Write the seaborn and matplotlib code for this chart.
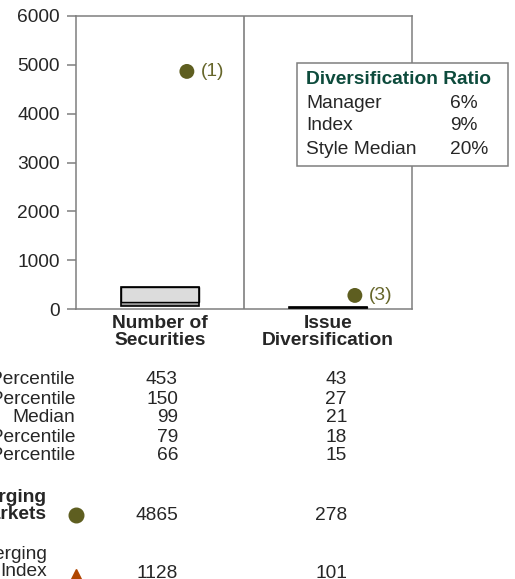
import matplotlib
matplotlib.use('Agg')
import matplotlib.pyplot as plt
from matplotlib.patches import Rectangle
import seaborn as sns
import numpy as np

# 데이터
categories = ["Number of\nSecurities", "Issue\nDiversification"]
pct_labels = ["5th Percentile", "25th Percentile", "Median", "75th Percentile", "95th Percentile"]
p05 = [453, 43]
p25 = [150, 27]
p50 = [99, 21]
p75 = [79, 18]
p95 = [66, 15]
manager_name = "Emerging\nMarkets"
manager_vals = [4865, 278]
manager_rank = ["(1)", "(3)"]
index_name = "MSCI Emerging\nIndex"
index_vals = [1128, 101]
ratio_title = "Diversification Ratio"
ratio_labels = ["Manager", "Index", "Style Median"]
ratio_vals = ["6%", "9%", "20%"]

OLIVE = '#5E5E20'
TEAL = '#0D4B3C'
RUST = '#B04600'
GREY = '#7F7F7F'

sns.set_style('white')
plt.rcParams['font.family'] = ['Liberation Sans', 'DejaVu Sans']
FS = 13.8

W, H = 515, 579
fig = plt.figure(figsize=(W / 100, H / 100), dpi=100)


def fx(px):
    return px / W


def fy(py):
    return 1 - py / H


ax = fig.add_axes([fx(76), fy(309), fx(412) - fx(76), fy(16) - fy(309)])

x = np.arange(len(categories))
bw = 0.46
lo_arr = np.array(p95)
hi_arr = np.array(p05)

# 백분위 박스: 아래쪽(95th~25th)은 회색, 위쪽(25th~5th)은 연회색
ax.bar(x, np.array(p25) - lo_arr, bottom=lo_arr, width=bw, color='#9A9A9A',
       edgecolor='none', zorder=2)
ax.bar(x, hi_arr - np.array(p25), bottom=p25, width=bw, color='#DCDCDC',
       edgecolor='black', linewidth=1.0, zorder=2)
ax.bar(x, hi_arr - lo_arr, bottom=lo_arr, width=bw, fill=False,
       edgecolor='black', linewidth=1.2, zorder=3)

# 매니저 점
mx = x + 0.16
sns.scatterplot(x=mx, y=manager_vals, ax=ax, s=115, color=OLIVE, edgecolor='none', zorder=4, legend=False)
for xi, v, r in zip(mx, manager_vals, manager_rank):
    ax.annotate(r, (xi, v), xytext=(10, 0), textcoords='offset points', va='center',
                ha='left', fontsize=FS, color='#66662A')

ax.axvline(0.5, color=GREY, lw=1.2, zorder=1)
ax.set_xlim(-0.5, 1.5)
ax.set_ylim(0, 6000)
ax.set_yticks(range(0, 6001, 1000))
ax.set_xticks([])
ax.tick_params(axis='y', direction='out', length=6.5, width=1.1, color=GREY, pad=5,
               labelsize=FS, left=True)
for sp in ax.spines.values():
    sp.set_color(GREY)
    sp.set_linewidth(1.1)

# 카테고리 라벨
for xi, c in zip([160, 328], categories):
    fig.text(fx(xi), fy(332), c, ha='center', va='center', fontsize=FS,
             fontweight='bold', linespacing=0.95)

# 백분위 표
row_y = [380, 399, 418, 437, 456]
cols = [p05, p25, p50, p75, p95]
for yy, lab, vals in zip(row_y, pct_labels, cols):
    fig.text(fx(75), fy(yy), lab, ha='right', va='center', fontsize=FS)
    fig.text(fx(178), fy(yy), str(vals[0]), ha='right', va='center', fontsize=FS)
    fig.text(fx(347), fy(yy), str(vals[1]), ha='right', va='center', fontsize=FS)

# 매니저 / 지수 행
fig.text(fx(47), fy(506), manager_name, ha='right', va='center', fontsize=FS,
         fontweight='bold', linespacing=0.95)
fig.add_artist(plt.Line2D([fx(76)], [fy(515)], marker='o', markersize=10.5,
                          color=OLIVE, linestyle='none'))
fig.text(fx(178), fy(515), str(manager_vals[0]), ha='right', va='center', fontsize=FS)
fig.text(fx(347), fy(515), str(manager_vals[1]), ha='right', va='center', fontsize=FS)

fig.text(fx(47), fy(563), index_name, ha='right', va='center', fontsize=FS,
         linespacing=0.95)
fig.add_artist(plt.Line2D([fx(76)], [fy(575)], marker='^', markersize=9,
                          color=RUST, linestyle='none'))
fig.text(fx(178), fy(573), str(index_vals[0]), ha='right', va='center', fontsize=FS)
fig.text(fx(347), fy(573), str(index_vals[1]), ha='right', va='center', fontsize=FS)

# 다각화 비율 박스
fig.add_artist(Rectangle((fx(297), fy(166)), fx(508) - fx(297), fy(63) - fy(166),
                         transform=fig.transFigure, facecolor='white', edgecolor=GREY,
                         linewidth=1.1, zorder=5))
fig.text(fx(306), fy(80), ratio_title, ha='left', va='center', fontsize=FS,
         fontweight='bold', color=TEAL, zorder=6)
for yy, lab, val in zip([103, 126, 149], ratio_labels, ratio_vals):
    fig.text(fx(306), fy(yy), lab, ha='left', va='center', fontsize=FS, zorder=6)
    fig.text(fx(450), fy(yy), val, ha='left', va='center', fontsize=FS, zorder=6)

fig.savefig('out.png', dpi=100, facecolor='white')
